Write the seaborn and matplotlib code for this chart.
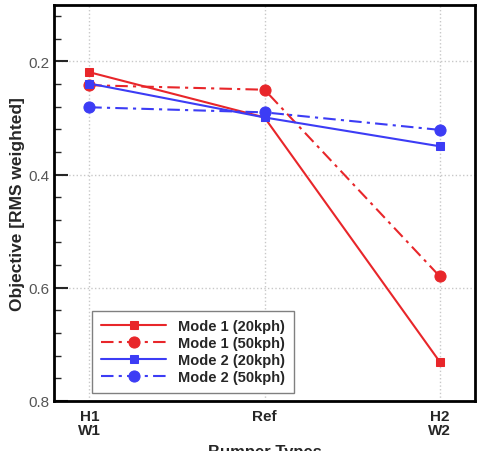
import pandas as pd
import seaborn as sns
import matplotlib.pyplot as plt
from matplotlib.ticker import MultipleLocator

# Data
bumper_types = ["H1\nW1", "Ref", "H2\nW2"]
mode1_20kph = [0.219, 0.299, 0.731]
mode1_50kph = [0.242, 0.250, 0.580]
mode2_20kph = [0.239, 0.299, 0.350]
mode2_50kph = [0.281, 0.290, 0.321]

series_names = ["Mode 1 (20kph)", "Mode 1 (50kph)", "Mode 2 (20kph)", "Mode 2 (50kph)"]
series_values = [mode1_20kph, mode1_50kph, mode2_20kph, mode2_50kph]

red = "#e8262a"
blue = "#3c3cf5"
styles = {
    "Mode 1 (20kph)": dict(color=red, marker="s", markersize=5.5, dashes=None),
    "Mode 1 (50kph)": dict(color=red, marker="o", markersize=8, dashes=(6, 2.5, 1.5, 2.5)),
    "Mode 2 (20kph)": dict(color=blue, marker="s", markersize=5.5, dashes=None),
    "Mode 2 (50kph)": dict(color=blue, marker="o", markersize=8, dashes=(6, 2.5, 1.5, 2.5)),
}

df = pd.DataFrame({
    "bumper": bumper_types * len(series_names),
    "objective": [v for vals in series_values for v in vals],
    "series": [n for n in series_names for _ in bumper_types],
})

sns.set_style("white")
plt.rcParams["font.family"] = ["Liberation Sans", "DejaVu Sans"]

fig = plt.figure(figsize=(4.84, 4.52), dpi=100)
ax = fig.add_axes([0.112, 0.111, 0.869, 0.876])

for name in series_names:
    st = styles[name]
    sub = df[df["series"] == name]
    line_kws = dict(
        color=st["color"], marker=st["marker"], markersize=st["markersize"],
        markeredgecolor=st["color"], linewidth=1.5, label=name, ax=ax,
    )
    sns.lineplot(data=sub, x="bumper", y="objective", sort=False, **line_kws)
    if st["dashes"] is not None:
        ax.lines[-1].set_dashes(st["dashes"])

ax.set_xlim(-0.2, 2.2)
ax.set_ylim(0.8, 0.1)
ax.yaxis.set_major_locator(MultipleLocator(0.2))
ax.yaxis.set_minor_locator(MultipleLocator(0.04))
ax.set_yticks([0.2, 0.4, 0.6, 0.8])
ax.set_yticklabels(["0.2", "0.4", "0.6", "0.8"], color="#555555", fontsize=11)
ax.set_xticks(range(len(bumper_types)))
ax.set_xticklabels(bumper_types, fontsize=11, fontweight="bold", linespacing=0.95)

ax.tick_params(axis="y", which="major", direction="in", length=10, width=1.5, left=True)
ax.tick_params(axis="y", which="minor", direction="in", length=5, width=1, left=True)
ax.tick_params(axis="x", length=0, pad=6)

ax.grid(True, which="major", color="#c8c8c8", linestyle=":", linewidth=1)
for sp in ax.spines.values():
    sp.set_color("black")
    sp.set_linewidth(2)

ax.set_xlabel("Bumper Types", fontsize=12, fontweight="bold", labelpad=5)
ax.set_ylabel("Objective [RMS weighted]", fontsize=12.5, fontweight="bold", labelpad=2)

leg = ax.legend(
    loc="lower left", bbox_to_anchor=(0.09, 0.02), borderaxespad=0,
    fancybox=False, framealpha=1, edgecolor="#808080", handlelength=4.5,
    labelspacing=0.2, prop={"weight": "bold", "size": 10.5}, handletextpad=0.8,
    borderpad=0.6,
)
leg.get_frame().set_linewidth(1)

fig.savefig("out.png", dpi=100)
